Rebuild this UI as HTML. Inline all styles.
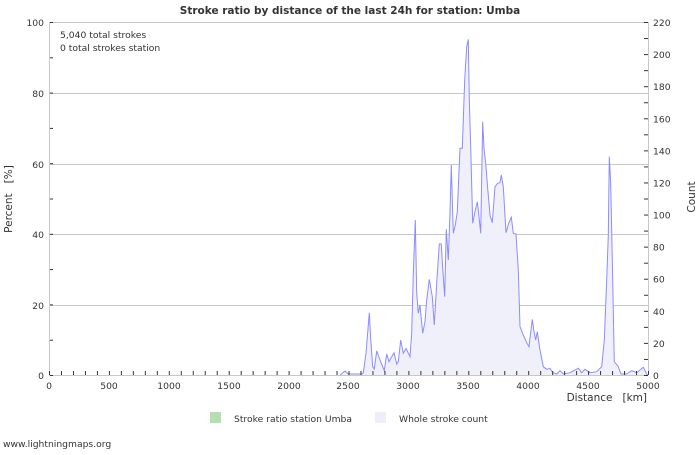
<!DOCTYPE html>
<html><head><meta charset="utf-8"><style>
body{margin:0;background:#fff}
svg text{font-family:"DejaVu Sans","Liberation Sans",sans-serif;font-size:9.2px;fill:#333}
</style></head><body>
<svg width="700" height="450" xmlns="http://www.w3.org/2000/svg">
<rect width="700" height="450" fill="#fff"/>
<text x="350" y="14" text-anchor="middle" style="font-weight:bold;font-size:10.5px" fill="#444">Stroke ratio by distance of the last 24h for station: Umba</text>
<g stroke="#c8c8c8" stroke-width="1">
<line x1="49" y1="22.5" x2="648" y2="22.5"/>
<line x1="49" y1="93.5" x2="648" y2="93.5"/>
<line x1="49" y1="164.5" x2="648" y2="164.5"/>
<line x1="49" y1="234.5" x2="648" y2="234.5"/>
<line x1="49" y1="305.5" x2="648" y2="305.5"/>
<line x1="648.5" y1="22" x2="648.5" y2="375"/>
<line x1="49.5" y1="22" x2="49.5" y2="375"/>
<line x1="49" y1="375.5" x2="648" y2="375.5"/>
</g>
<polygon fill="#f0f0fb" stroke="none" points="340,375 345,371 348.3,374 361.7,374 363.3,373 366,353.3 369.3,312.7 370.7,339.3 372.7,366.7 374.3,369 376.7,351 380,360 384.3,370.7 386.7,354 389,361.7 394,352.7 396.7,364 398.3,361.7 400.7,340 403.3,353.3 406,348.3 410,356.7 411.7,333.3 413.3,273.3 415.3,220 416.7,293.3 418.3,313.3 420,305 422.7,333.3 425,321.7 426.7,300 429.3,279.3 432.3,296.7 434.3,325 436.7,283.3 439.3,244 441.3,244 442.7,268.3 444.7,296.7 446.3,229.3 448.3,260 450,213.3 451.3,165 453.3,233.3 455.3,225 457.3,211.7 460,148.3 462.3,148.3 464.7,80 466.7,46.7 468.3,39.3 469.3,100 470.7,146.7 472.7,223.3 475,211.7 477.3,201.7 479,216.7 480.7,233.3 482.7,121.7 484,148.3 485.7,163.3 487.7,188.3 490,215 492.3,222.7 495,186.7 497.7,183.3 500,182.7 501.3,175 503.3,186.7 506,232.7 508.7,223.3 511.3,217.3 513.3,233.3 516,234 518.3,270 520,326.7 523.3,335 526.7,342.7 529,346.7 532.3,319.3 534,331.7 535.7,340 537.3,331.7 540,350 543.3,366.7 546.7,369.3 550,368.3 552.7,372.7 556.7,374 560,370.7 563.3,374 570,372.7 578.3,368.3 581.7,372.7 585,369.3 590,372.7 596.7,371.7 601.7,366.7 604.3,340 606.7,280 608.3,235 609.3,156.7 610.7,183.3 612.7,280 614.3,361.7 618.3,366.7 621,374 626.7,374 631.7,370.7 636.7,372.7 643.3,367.3 646.7,374 648,375"/>
<polyline fill="none" stroke="#8c8cff" stroke-width="1" points="340,375 345,371 348.3,374 361.7,374 363.3,373 366,353.3 369.3,312.7 370.7,339.3 372.7,366.7 374.3,369 376.7,351 380,360 384.3,370.7 386.7,354 389,361.7 394,352.7 396.7,364 398.3,361.7 400.7,340 403.3,353.3 406,348.3 410,356.7 411.7,333.3 413.3,273.3 415.3,220 416.7,293.3 418.3,313.3 420,305 422.7,333.3 425,321.7 426.7,300 429.3,279.3 432.3,296.7 434.3,325 436.7,283.3 439.3,244 441.3,244 442.7,268.3 444.7,296.7 446.3,229.3 448.3,260 450,213.3 451.3,165 453.3,233.3 455.3,225 457.3,211.7 460,148.3 462.3,148.3 464.7,80 466.7,46.7 468.3,39.3 469.3,100 470.7,146.7 472.7,223.3 475,211.7 477.3,201.7 479,216.7 480.7,233.3 482.7,121.7 484,148.3 485.7,163.3 487.7,188.3 490,215 492.3,222.7 495,186.7 497.7,183.3 500,182.7 501.3,175 503.3,186.7 506,232.7 508.7,223.3 511.3,217.3 513.3,233.3 516,234 518.3,270 520,326.7 523.3,335 526.7,342.7 529,346.7 532.3,319.3 534,331.7 535.7,340 537.3,331.7 540,350 543.3,366.7 546.7,369.3 550,368.3 552.7,372.7 556.7,374 560,370.7 563.3,374 570,372.7 578.3,368.3 581.7,372.7 585,369.3 590,372.7 596.7,371.7 601.7,366.7 604.3,340 606.7,280 608.3,235 609.3,156.7 610.7,183.3 612.7,280 614.3,361.7 618.3,366.7 621,374 626.7,374 631.7,370.7 636.7,372.7 643.3,367.3 646.7,374 648,375"/>
<g id="xt" stroke="#333" stroke-width="1"></g>
<g>
<text x="49" y="389" text-anchor="middle">0</text>
<text x="109" y="389" text-anchor="middle">500</text>
<text x="169" y="389" text-anchor="middle">1000</text>
<text x="229" y="389" text-anchor="middle">1500</text>
<text x="289" y="389" text-anchor="middle">2000</text>
<text x="348" y="389" text-anchor="middle">2500</text>
<text x="408" y="389" text-anchor="middle">3000</text>
<text x="468" y="389" text-anchor="middle">3500</text>
<text x="528" y="389" text-anchor="middle">4000</text>
<text x="588" y="389" text-anchor="middle">4500</text>
<text x="648" y="389" text-anchor="middle">5000</text>
<text x="44" y="379" text-anchor="end">0</text>
<text x="44" y="309" text-anchor="end">20</text>
<text x="44" y="238" text-anchor="end">40</text>
<text x="44" y="168" text-anchor="end">60</text>
<text x="44" y="97" text-anchor="end">80</text>
<text x="44" y="26" text-anchor="end">100</text>
</g>
<g id="ry"></g>
<text x="647" y="401" text-anchor="end" style="font-size:10.5px">Distance&#160;&#160;&#160;[km]</text>
<text transform="translate(12,199) rotate(-90)" text-anchor="middle" style="font-size:10.5px">Percent&#160;&#160;&#160;[%]</text>
<text transform="translate(695,197) rotate(-90)" text-anchor="middle" style="font-size:10.5px">Count</text>
<text x="60" y="38" fill="#555">5,040 total strokes</text>
<text x="60" y="51" fill="#555">0 total strokes station</text>
<rect x="210" y="412" width="11" height="11" fill="#b5dfb0"/>
<text x="234" y="422">Stroke ratio station Umba</text>
<rect x="375" y="412" width="11" height="11" fill="#eeeefa"/>
<text x="399" y="422">Whole stroke count</text>
<text x="3" y="447" fill="#888">www.lightningmaps.org</text>
<script>
var ns="http://www.w3.org/2000/svg",g=document.getElementById('xt'),r=document.getElementById('ry');
for(var i=0;i<=50;i++){var x=49.5+i*11.98;var l=document.createElementNS(ns,'line');l.setAttribute('x1',x);l.setAttribute('x2',x);l.setAttribute('y1',371);l.setAttribute('y2',375);g.appendChild(l);}
for(var i=0;i<=22;i++){var y=375.5-i*16.045;var l=document.createElementNS(ns,'line');l.setAttribute('x1',644);l.setAttribute('x2',648);l.setAttribute('y1',y);l.setAttribute('y2',y);g.appendChild(l);
if(i%2==0){var t=document.createElementNS(ns,'text');t.setAttribute('x',653);t.setAttribute('y',y+3.5);t.textContent=i*10;r.appendChild(t);}}
for(var i=0;i<=10;i++){var y=375.5-i*35.3;var l=document.createElementNS(ns,'line');l.setAttribute('x1',50);l.setAttribute('x2',53);l.setAttribute('y1',y);l.setAttribute('y2',y);g.appendChild(l);}
</script>
</svg>
</body></html>
